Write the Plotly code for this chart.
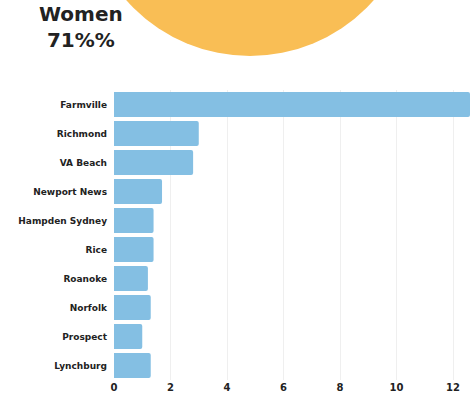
import plotly.graph_objects as go

cities = ["Farmville", "Richmond", "VA Beach", "Newport News", "Hampden Sydney",
          "Rice", "Roanoke", "Norfolk", "Prospect", "Lynchburg"]
counts = [12.6, 3.0, 2.8, 1.7, 1.4, 1.4, 1.2, 1.3, 1.0, 1.3]
x_ticks = [0, 2, 4, 6, 8, 10, 12]
headline = ["Women", "71%%"]

W, H = 474, 396
fig = go.Figure()
fig.add_trace(go.Bar(
    y=cities, x=counts, orientation="h",
    marker=dict(color="#84BFE3", line=dict(width=0), cornerradius=2),
    hoverinfo="x+y",
))

# decorative circle (part of a pie above the chart)
cx, cy, r = 250, -109, 165
fig.add_shape(type="circle", xref="paper", yref="paper",
              x0=(cx - r - 114) / (W - 118), x1=(cx + r - 114) / (W - 118),
              y0=(H - 16 - (cy + r)) / (H - 106), y1=(H - 16 - (cy - r)) / (H - 106),
              fillcolor="#F9BE55", line=dict(width=0), layer="below")

fig.add_annotation(text="<br>".join(headline), xref="paper", yref="paper",
                   x=(81 - 114) / (W - 118), y=(H - 16 - 27) / (H - 106),
                   xanchor="center", yanchor="middle", showarrow=False,
                   font=dict(family="DejaVu Sans", size=20, color="#222222"),
                   align="center")

fig.update_layout(
    width=W, height=H,
    margin=dict(l=114, r=4, t=90, b=16),
    paper_bgcolor="white", plot_bgcolor="white",
    bargap=0.14, showlegend=False,
    font=dict(family="DejaVu Sans", color="#222222"),
    xaxis=dict(range=[0, 12.6], tickvals=x_ticks, showgrid=True,
               gridcolor="#EFEFEF", gridwidth=1, zeroline=False,
               showline=False, ticks="", fixedrange=True,
               tickfont=dict(size=10, family="DejaVu Sans", color="#222222")),
    yaxis=dict(autorange="reversed", showgrid=False, zeroline=False,
               showline=False, ticks="", ticklabelstandoff=6,
               tickfont=dict(size=9, family="DejaVu Sans", color="#222222")),
)
fig.update_annotations(font_weight="bold")
fig.update_xaxes(tickfont_weight="bold")
fig.update_yaxes(tickfont_weight="bold")
fig.write_html("out.html")
